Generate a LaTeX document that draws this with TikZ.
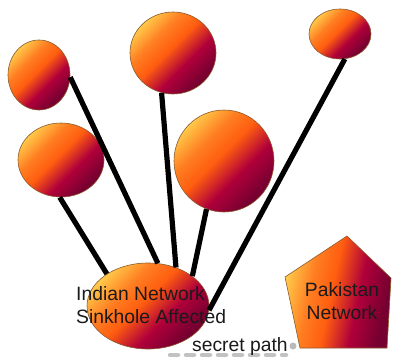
\documentclass[tikz,border=0pt]{standalone}
\usepackage{fontspec}
\setmainfont{Liberation Sans}
\usetikzlibrary{shapes.geometric}
\definecolor{gyel}{HTML}{FFC84A}
\definecolor{gorg}{HTML}{FF5E10}
\definecolor{gcrim}{HTML}{B0003A}
\definecolor{gmar}{HTML}{760030}
\definecolor{rimc}{HTML}{8B5A2B}
\definecolor{txt}{HTML}{1A1A1A}
\pgfdeclareverticalshading{ballshade}{100bp}{color(0bp)=(gmar); color(27bp)=(gmar); color(40bp)=(gcrim); color(53bp)=(gorg); color(63bp)=(gorg!70!gyel); color(75bp)=(gyel); color(100bp)=(gyel)}
\tikzset{
  ball/.style={ellipse, draw=rimc, line width=0.6pt, shading=ballshade, shading angle=45, inner sep=0pt},
  link/.style={line width=5.2pt, draw=black},
  lbl/.style={text=txt, font=\fontsize{19.3}{23}\selectfont, inner sep=0pt},
}
\begin{document}
\begin{tikzpicture}[x=1pt,y=-1pt]
\useasboundingbox (0,0) rectangle (398,361);
% shadow blobs
\draw[line width=4.5pt, gray!80!black, opacity=0.4, dash pattern=on 8pt off 8pt, line cap=round] (170,355) -- (286,355);
\fill[gray!80!black, opacity=0.45] (293,346) circle (3.5);
% Indian network
\node[ball, minimum width=122pt, minimum height=86pt] (ind) at (148,306) {};
% circles
\node[ball, minimum width=62pt, minimum height=70pt] (c1) at (39,75) {};
\node[ball, minimum width=86pt, minimum height=74pt] (c2) at (61,160) {};
\node[ball, minimum width=86pt, minimum height=82pt] (c3) at (173,53) {};
\node[ball, minimum width=100pt, minimum height=102pt] (c4) at (224,161) {};
\node[ball, minimum width=62pt, minimum height=50pt] (c5) at (340,34) {};
% links
\draw[link] (c2.-92) -- (ind.142);
\draw[link] (c1.-4) -- (ind.77);
\draw[link] (c3.-106) -- (ind.54);
\draw[link] (c4.-110) -- (ind.34);
\draw[link] (c5.-79) -- (ind.-4);
% Pakistan network
\shade[draw=rimc, line width=0.6pt, shading=ballshade, shading angle=78]
  (347,236) -- (391,278) -- (387,348) -- (300,348) -- (285,277) -- cycle;
\node[lbl, align=center] (pak) at (342,301) {Pakistan\\Network};
% labels
\node[lbl, align=left, anchor=west] (indtxt) at (76,305.5) {Indian Network\\Sinkhole Affected};
\node[lbl, anchor=base west] (secret) at (192,351) {secret path};
\end{tikzpicture}
\end{document}
